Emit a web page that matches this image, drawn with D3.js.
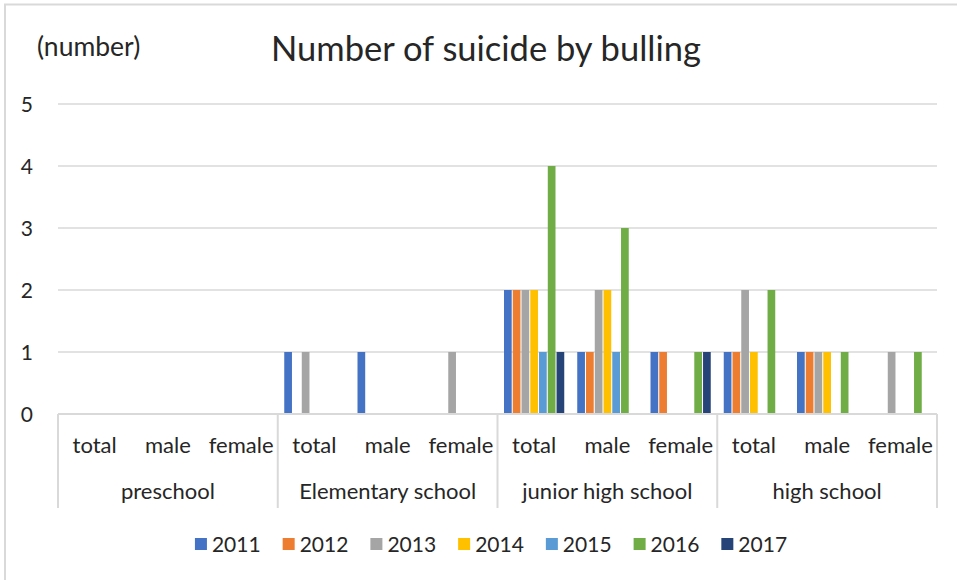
<!DOCTYPE html>
<html>
<head>
<meta charset="utf-8">
<script src="https://cdn.jsdelivr.net/npm/d3@7"></script>
<style>
  html, body { margin: 0; padding: 0; background: #fff; }
  svg { display: block; }
  text { font-family: Lato, "Open Sans", sans-serif; fill: #262626; }
</style>
</head>
<body>
<svg id="chart" width="957" height="580"></svg>
<script>
// School levels and the breakdown inside each
const groups = ["preschool", "Elementary school", "junior high school", "high school"];
const subcats = ["total", "male", "female"];
const years = ["2011", "2012", "2013", "2014", "2015", "2016", "2017"];
const yTicks = [0, 1, 2, 3, 4, 5];

// One array per year, 12 values: (total, male, female) for each school level
const v2011 = [0, 0, 0, 1, 1, 0, 2, 1, 1, 1, 1, 0];
const v2012 = [0, 0, 0, 0, 0, 0, 2, 1, 1, 1, 1, 0];
const v2013 = [0, 0, 0, 1, 0, 1, 2, 2, 0, 2, 1, 1];
const v2014 = [0, 0, 0, 0, 0, 0, 2, 2, 0, 1, 1, 0];
const v2015 = [0, 0, 0, 0, 0, 0, 1, 1, 0, 0, 0, 0];
const v2016 = [0, 0, 0, 0, 0, 0, 4, 3, 1, 2, 1, 1];
const v2017 = [0, 0, 0, 0, 0, 0, 1, 0, 1, 0, 0, 0];
const seriesValues = [v2011, v2012, v2013, v2014, v2015, v2016, v2017];

const colors = ["#4472C4", "#ED7D31", "#A5A5A5", "#FFC000", "#5B9BD5", "#70AD47", "#264478"];

const svg = d3.select("#chart");
const W = 957, H = 580;
const plot = { left: 58, right: 937, top: 104, bottom: 414 };
const gridColor = "#d9d9d9";

// frame edges
svg.append("line").attr("x1", 4).attr("x2", W).attr("y1", 4.5).attr("y2", 4.5)
  .attr("stroke", gridColor).attr("stroke-width", 2);
svg.append("line").attr("x1", 5).attr("x2", 5).attr("y1", 4).attr("y2", H)
  .attr("stroke", gridColor).attr("stroke-width", 2);

// category keys
const cats = [];
groups.forEach((g, gi) => subcats.forEach((s, si) => cats.push({ key: gi + "-" + si, group: g, sub: s, gi, si })));

const x0 = d3.scaleBand().domain(cats.map(c => c.key)).range([plot.left, plot.right]);
const bw = x0.bandwidth();
const x1 = d3.scaleBand().domain(years).range([6.5, bw - 6.5]).paddingInner(0.12);
const y = d3.scaleLinear().domain([0, 5]).range([plot.bottom, plot.top]);

// gridlines
svg.append("g").selectAll("line").data(yTicks.filter(t => t > 0)).join("line")
  .attr("x1", plot.left).attr("x2", plot.right)
  .attr("y1", d => y(d)).attr("y2", d => y(d))
  .attr("stroke", gridColor).attr("stroke-width", 1.5);

// y tick labels
svg.append("g").selectAll("text").data(yTicks).join("text")
  .attr("x", 33).attr("y", d => y(d)).attr("dy", "0.36em")
  .attr("text-anchor", "end").attr("font-size", 21)
  .text(d => d);

// bars
const barG = svg.append("g");
years.forEach((yr, i) => {
  barG.append("g").attr("fill", colors[i]).selectAll("rect")
    .data(cats.map((c, ci) => ({ c, v: seriesValues[i][ci] })).filter(d => d.v > 0))
    .join("rect")
    .attr("x", d => x0(d.c.key) + x1(yr))
    .attr("width", x1.bandwidth())
    .attr("y", d => y(d.v))
    .attr("height", d => y(0) - y(d.v));
});

// category axis line
svg.append("line").attr("x1", plot.left).attr("x2", plot.right)
  .attr("y1", plot.bottom).attr("y2", plot.bottom)
  .attr("stroke", gridColor).attr("stroke-width", 2);

// group separators
const sepX = groups.map((g, gi) => x0(gi + "-0")).concat([plot.right]);
svg.append("g").selectAll("line").data(sepX).join("line")
  .attr("x1", d => d).attr("x2", d => d)
  .attr("y1", plot.bottom).attr("y2", 508)
  .attr("stroke", gridColor).attr("stroke-width", 2);

// sub-category labels
svg.append("g").selectAll("text").data(cats).join("text")
  .attr("x", d => x0(d.key) + bw / 2).attr("y", 453)
  .attr("text-anchor", "middle").attr("font-size", 22)
  .text(d => d.sub);

// group labels
svg.append("g").selectAll("text").data(groups).join("text")
  .attr("x", (g, gi) => (sepX[gi] + sepX[gi + 1]) / 2).attr("y", 499)
  .attr("text-anchor", "middle").attr("font-size", 22)
  .text(d => d);

// title and unit
svg.append("text").attr("x", 486).attr("y", 61).attr("text-anchor", "middle")
  .attr("font-size", 34.5).text("Number of suicide by bulling");
svg.append("text").attr("x", 37).attr("y", 56).attr("font-size", 26.5).text("(number)");

// legend
const legend = svg.append("g");
const items = legend.selectAll("g").data(years).join("g");
items.append("rect").attr("width", 12).attr("height", 12).attr("y", -6)
  .attr("fill", (d, i) => colors[i]);
items.append("text").attr("x", 17).attr("dy", "0.36em").attr("font-size", 21).text(d => d);
let cx = 0;
items.each(function () {
  const g = d3.select(this);
  g.attr("transform", `translate(${cx},0)`);
  cx += 17 + g.select("text").node().getComputedTextLength() + 22;
});
const totalW = cx - 22;
legend.attr("transform", `translate(${491 - totalW / 2},544)`);
</script>
</body>
</html>
